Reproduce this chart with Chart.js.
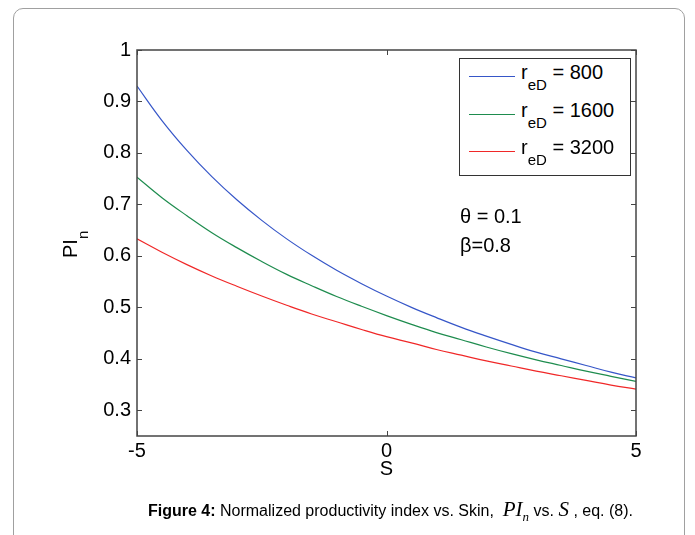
<!DOCTYPE html>
<html>
<head>
<meta charset="utf-8">
<script src="https://cdn.jsdelivr.net/npm/chart.js@4"></script>
<style>
  html, body { margin:0; padding:0; background:#fff; }
  body { width:695px; height:535px; position:relative; overflow:hidden; font-family:"Liberation Sans", Arial, sans-serif; }
  #frame { position:absolute; left:13px; top:8px; width:670px; height:600px; border:1px solid #a0a0a0; border-radius:10px; }
  #c { position:absolute; left:0; top:0; }
  .txt { position:absolute; white-space:nowrap; color:#000; }
  #legend { position:absolute; left:459px; top:58px; width:170px; height:116px; border:1px solid #333; background:#fff; }
  .lrow { position:absolute; left:0; width:170px; height:20px; }
  .lline { position:absolute; left:9px; width:46px; height:1px; }
  .ltext { position:absolute; left:61px; top:0; font-size:20px; line-height:20px; }
  .sub { position:relative; top:11px; font-size:15px; }
  #ylab { position:absolute; left:60px; top:258px; transform-origin:0 0; transform:rotate(-90deg); font-size:20px; line-height:20px; white-space:nowrap; }
  #ylab .sub { top:11px; font-size:15px; }
  #caption { position:absolute; left:148px; top:499px; font-family:"Liberation Sans Narrow","Liberation Sans",Arial,sans-serif; font-size:16px; line-height:20px; white-space:nowrap; }
  #caption .m { font-family:"Liberation Serif","Times New Roman",serif; font-style:italic; font-size:21px; }
  #caption .ms { font-family:"Liberation Serif","Times New Roman",serif; font-style:italic; font-size:13px; position:relative; top:5px; }
</style>
</head>
<body>
<div id="frame"></div>
<canvas id="c" width="695" height="535"></canvas>
<div id="ylab">PI<span class="sub">n</span></div>
<div id="legend"></div>
<div class="txt" style="left:460px; top:206px; font-size:20px; line-height:20px;">&theta; = 0.1</div>
<div class="txt" style="left:460px; top:235px; font-size:20px; line-height:20px;">&beta;=0.8</div>
<div id="caption"><b>Figure 4:</b> Normalized productivity index vs. Skin,&nbsp; <span class="m">PI</span><span class="ms">n</span> vs. <span class="m">S</span> , eq. (8).</div>
<script>
// ---- data ----
const skinValues = [-5, -4.5, -4, -3.5, -3, -2.5, -2, -1.5, -1, -0.5, 0, 0.5, 1, 1.5, 2, 2.5, 3, 3.5, 4, 4.5, 5];
const pi_reD800  = [0.930, 0.863, 0.805, 0.754, 0.709, 0.669, 0.633, 0.601, 0.572, 0.546, 0.522, 0.500, 0.480, 0.461, 0.444, 0.428, 0.413, 0.400, 0.387, 0.374, 0.363];
const pi_reD1600 = [0.753, 0.713, 0.678, 0.645, 0.616, 0.589, 0.564, 0.542, 0.521, 0.502, 0.484, 0.467, 0.451, 0.437, 0.423, 0.410, 0.398, 0.387, 0.376, 0.366, 0.356];
const pi_reD3200 = [0.633, 0.607, 0.583, 0.561, 0.541, 0.522, 0.504, 0.487, 0.472, 0.457, 0.443, 0.431, 0.418, 0.407, 0.396, 0.386, 0.376, 0.367, 0.358, 0.349, 0.341];
const seriesNames = ['800', '1600', '3200'];
const xTickValues = [-5, 0, 5];
const yTickValues = [0.3, 0.4, 0.5, 0.6, 0.7, 0.8, 0.9, 1];

const seriesColors = ['#3656c8', '#1e8c4e', '#f02828'];
const seriesData = [pi_reD800, pi_reD1600, pi_reD3200];

const datasets = seriesData.map((arr, i) => ({
  label: 'r_eD = ' + seriesNames[i],
  data: skinValues.map((s, k) => ({ x: s, y: arr[k] })),
  borderColor: seriesColors[i],
  backgroundColor: seriesColors[i],
  borderWidth: 1.2,
  pointRadius: 0,
  tension: 0.4,
  fill: false
}));

// HTML legend with subscripts built from the dataset names
const legend = document.getElementById('legend');
const rowCenters = [20, 58, 95];
seriesNames.forEach((n, i) => {
  const row = document.createElement('div');
  row.className = 'lrow';
  row.style.top = (rowCenters[i] - 17) + 'px';
  row.innerHTML = '<div class="lline" style="top:14px;background:' + seriesColors[i] + '"></div>' +
    '<div class="ltext">r<span class="sub">eD</span> = ' + n + '</div>';
  legend.appendChild(row);
});

const boxPlugin = {
  id: 'boxPlugin',
  afterDraw(chart) {
    const { ctx, chartArea: a, scales } = chart;
    ctx.save();
    ctx.strokeStyle = '#444';
    ctx.lineWidth = 1.5;
    ctx.strokeRect(a.left, a.top, a.right - a.left, a.bottom - a.top);
    ctx.lineWidth = 1;
    ctx.beginPath();
    const tl = 5;
    xTickValues.forEach(v => {
      const px = Math.round(scales.x.getPixelForValue(v)) + 0.5;
      ctx.moveTo(px, a.bottom); ctx.lineTo(px, a.bottom - tl);
      ctx.moveTo(px, a.top); ctx.lineTo(px, a.top + tl);
    });
    yTickValues.forEach(v => {
      const py = Math.round(scales.y.getPixelForValue(v)) + 0.5;
      ctx.moveTo(a.left, py); ctx.lineTo(a.left + tl, py);
      ctx.moveTo(a.right, py); ctx.lineTo(a.right - tl, py);
    });
    ctx.stroke();
    ctx.restore();
  }
};

const tickFont = { family: '"Liberation Sans", Arial, sans-serif', size: 20 };

new Chart(document.getElementById('c'), {
  type: 'line',
  data: { datasets },
  options: {
    responsive: false,
    animation: false,
    devicePixelRatio: 1,
    layout: { padding: { top: 50, right: 59, left: 0, bottom: 54 } },
    plugins: { legend: { display: false }, tooltip: { enabled: false } },
    scales: {
      x: {
        type: 'linear', min: -5, max: 5,
        afterBuildTicks: s => { s.ticks = xTickValues.map(v => ({ value: v })); },
        afterFit: s => { s.height = 45; },
        grid: { display: false, drawTicks: false },
        border: { display: false },
        ticks: { font: tickFont, color: '#000', padding: 3, maxRotation: 0, callback: v => String(v) },
        title: { display: true, text: 'S', font: tickFont, color: '#000', padding: { top: 0, bottom: 0 } }
      },
      y: {
        type: 'linear', min: 0.25, max: 1,
        afterBuildTicks: s => { s.ticks = yTickValues.map(v => ({ value: v })); },
        afterFit: s => { s.width = 137; },
        grid: { display: false, drawTicks: false },
        border: { display: false },
        ticks: { font: tickFont, color: '#000', padding: 6, callback: v => (v === 1 ? '1' : Number(v).toFixed(1)) }
      }
    }
  },
  plugins: [boxPlugin]
});
</script>
</body>
</html>
